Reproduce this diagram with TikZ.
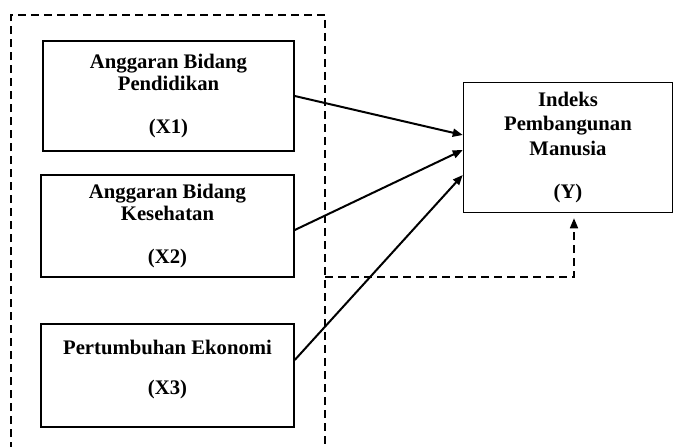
\documentclass[tikz,border=0pt]{standalone}
\usepackage{fontspec}
\setmainfont{Liberation Serif}
\usepackage{tikz}
\usetikzlibrary{arrows.meta, positioning}

\begin{document}
\begin{tikzpicture}[x=1pt, y=-1pt,
    varbox/.style={draw, line width=1.5pt, align=center, inner sep=0pt,
      font=\bfseries\fontsize{20.7}{22.5}\selectfont},
    link/.style={-{Triangle[length=10pt, width=8pt]}, line width=2pt},
    frame/.style={dashed, dash pattern=on 8pt off 5pt, line width=1.6pt}]
  \useasboundingbox (0,0) rectangle (673,447);

  % Variables
  \node[varbox, minimum width=251pt, minimum height=110pt] (x1) at (168.5,96)
    {Anggaran Bidang\\Pendidikan\\[20pt](X1)};
  \node[varbox, minimum width=253pt, minimum height=102pt] (x2) at (167.5,226)
    {Anggaran Bidang\\Kesehatan\\[20pt](X2)};
  \node[varbox, minimum width=253pt, minimum height=103pt] (x3) at (167.5,375.5)
    {Pertumbuhan Ekonomi\\[17.5pt](X3)\\[-6.5pt]\mbox{}};
  \node[varbox, minimum width=209pt, minimum height=130pt,
    font=\bfseries\fontsize{20.7}{24.5}\selectfont] (y) at (568,147.5)
    {Indeks\\Pembangunan\\Manusia\\[19pt](Y)};

  % Simultaneous frame
  \coordinate (fbl) at (11,450);
  \coordinate (ftl) at (11,15);
  \coordinate (ftr) at (325,15);
  \coordinate (fbr) at (325,450);
  \draw[frame] (fbl) -- (ftl) -- (ftr) -- (fbr);

  % Arrows
  \draw[link] (x1.east) -- ([yshift=12.5pt]y.west);
  \draw[link] ([yshift=-4pt]x2.east) -- ([yshift=-2.5pt]y.west);
  \draw[link] ([yshift=15.5pt]x3.east) -- ([yshift=-27.5pt]y.west);

  % Joint effect
  \coordinate (fb) at (325,277);
  \draw[frame, -{Triangle[length=10pt, width=8pt]}, shorten >=5pt]
    (fb) -| ([xshift=6pt]y.south);
\end{tikzpicture}
\end{document}
